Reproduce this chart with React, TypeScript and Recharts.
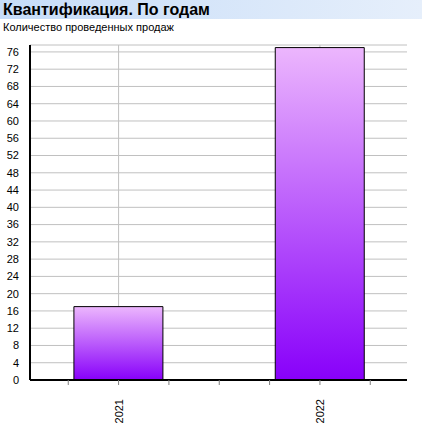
import React from "react";
import {
  BarChart,
  Bar,
  XAxis,
  YAxis,
  CartesianGrid,
} from "recharts";

const title = "Квантификация. По годам";
const subtitle = "Количество проведенных продаж";

const years = ["2021", "2022"];
const sales = [17, 77];

const yTicks = [0, 4, 8, 12, 16, 20, 24, 28, 32, 36, 40, 44, 48, 52, 56, 60, 64, 68, 72, 76];

// minor ticks along the category axis; categories sit on every 4th one
const xTicks = [0, 1, 2, 3, 4, 5, 6];
const xDomain: [number, number] = [-0.76, 6.73];
const STEP = 4;
const FIRST = 1;

const data = years.map((year, i) => ({
  pos: FIRST + i * STEP,
  year,
  sales: sales[i],
}));

const FONT = "'Liberation Sans', Arial, sans-serif";

function YearTick(props: any) {
  const { x, y, payload } = props;
  const hit = data.find((d) => d.pos === payload.value);
  if (!hit) return null;
  return (
    <text
      transform={`translate(${x + 4},${y + 12}) rotate(-90)`}
      textAnchor="end"
      fontSize={11}
      fontFamily={FONT}
      fill="#000"
    >
      {hit.year}
    </text>
  );
}

// vertical grid only at the category centres
function categoryLines(props: any) {
  const { xAxis, offset } = props;
  const sc = xAxis && xAxis.scale;
  if (typeof sc === "function") return data.map((d) => sc(d.pos));
  if (sc && typeof sc.map === "function") return data.map((d) => sc.map(d.pos));
  const [a, b] = xDomain;
  return data.map((d) => offset.left + ((d.pos - a) / (b - a)) * offset.width);
}

export default function App() {
  return (
    <div
      style={{
        position: "absolute",
        left: 0,
        top: 0,
        width: 422,
        height: 431,
        background: "#fff",
        fontFamily: FONT,
      }}
    >
      <div
        style={{
          position: "absolute",
          left: 0,
          top: 0,
          width: 422,
          height: 19,
          background: "linear-gradient(to right, #c6dcf8, #e6effb)",
        }}
      />
      <div
        style={{
          position: "absolute",
          left: 3,
          top: 1,
          fontSize: 16,
          fontWeight: "bold",
          lineHeight: "18px",
          color: "#000",
        }}
      >
        {title}
      </div>
      <div
        style={{
          position: "absolute",
          left: 3,
          top: 21,
          fontSize: 11,
          lineHeight: "13px",
          color: "#000",
        }}
      >
        {subtitle}
      </div>
      <div style={{ position: "absolute", left: 0, top: 0 }}>
        <BarChart
          width={422}
          height={431}
          data={data}
          margin={{ top: 45, right: 15, bottom: 0, left: 0 }}
        >
          <defs>
            <linearGradient id="barFill" x1="0" y1="0" x2="0" y2="1">
              <stop offset="0%" stopColor="#ecb6fd" />
              <stop offset="100%" stopColor="#8800fa" />
            </linearGradient>
          </defs>
          <CartesianGrid
            stroke="#c0c0c0"
            strokeDasharray=""
            verticalCoordinatesGenerator={categoryLines}
          />
          <XAxis
            type="number"
            dataKey="pos"
            domain={xDomain}
            ticks={xTicks}
            interval={0}
            allowDataOverflow
            height={51}
            axisLine={{ stroke: "#000", strokeWidth: 2 }}
            tickLine={{ stroke: "#808080" }}
            tickSize={5}
            tick={<YearTick />}
          />
          <YAxis
            type="number"
            domain={[0, 77.6]}
            ticks={yTicks}
            interval={0}
            allowDataOverflow
            width={30}
            axisLine={{ stroke: "#000", strokeWidth: 2 }}
            tickLine={false}
            tickSize={0}
            tickMargin={11}
            tick={{ fontSize: 11, fontFamily: FONT, fill: "#000" }}
          />
          <Bar
            dataKey="sales"
            barSize={89}
            fill="url(#barFill)"
            stroke="#000"
            strokeWidth={1}
            isAnimationActive={false}
          />
        </BarChart>
      </div>
    </div>
  );
}
